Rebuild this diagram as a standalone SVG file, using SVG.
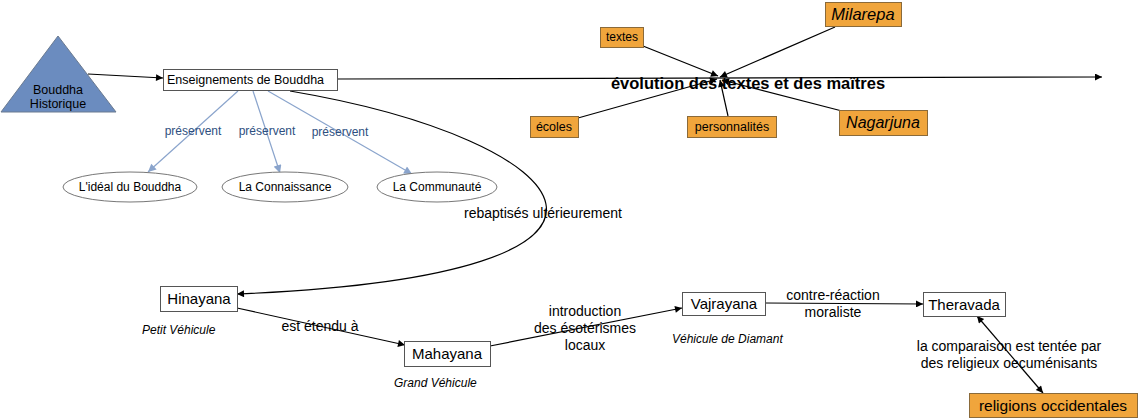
<svg xmlns="http://www.w3.org/2000/svg" width="1139" height="419" viewBox="0 0 1139 419">
<defs>
<style>
text{font-family:"Liberation Sans",Arial,sans-serif;fill:#000}
.box{fill:#fff;stroke:#555;stroke-width:1}
.org{fill:#f0a53c;stroke:#8a6a3a;stroke-width:1}
.ell{fill:#fff;stroke:#777;stroke-width:1}
.ln{fill:none;stroke:#000;stroke-width:1.2}
.bl{fill:none;stroke:#8aa4cc;stroke-width:1.2}
.lbl{font-size:14px;text-anchor:middle}
.blt{font-size:12px;fill:#2e4f80;text-anchor:middle}
.it{font-size:12px;font-style:italic}
</style>
<marker id="ah" viewBox="0 0 10 10" refX="10" refY="5" markerWidth="9" markerHeight="7" orient="auto" markerUnits="userSpaceOnUse"><path d="M0,0 L10,5 L0,10 z" fill="#000"/></marker>
<marker id="ahs" viewBox="0 0 10 10" refX="0" refY="5" markerWidth="9" markerHeight="7" orient="auto" markerUnits="userSpaceOnUse"><path d="M10,0 L0,5 L10,10 z" fill="#000"/></marker>
<marker id="ab" viewBox="0 0 10 10" refX="10" refY="5" markerWidth="10" markerHeight="8" orient="auto" markerUnits="userSpaceOnUse"><path d="M0,0 L10,5 L0,10 z" fill="#8aa4cc"/></marker>
</defs>

<g id="connectors">
<line class="ln" x1="88" y1="74" x2="163" y2="78" marker-end="url(#ah)"/>
<line class="ln" x1="337" y1="79" x2="1102" y2="77" stroke="#333" marker-end="url(#ah)"/>
<line class="bl" x1="238" y1="91" x2="148" y2="172" marker-end="url(#ab)"/>
<line class="bl" x1="253" y1="91" x2="280" y2="173" marker-end="url(#ab)"/>
<line class="bl" x1="268" y1="91" x2="412" y2="174" marker-end="url(#ab)"/>
<path class="ln" d="M290,91 C580,140 700,275 237,294" marker-end="url(#ah)"/>
<line class="ln" x1="643" y1="46" x2="718" y2="76" marker-end="url(#ah)"/>
<line class="ln" x1="835" y1="27" x2="720" y2="77" marker-end="url(#ah)"/>
<line class="ln" x1="578" y1="118" x2="717" y2="79" marker-end="url(#ah)"/>
<line class="ln" x1="728" y1="116" x2="720" y2="80" marker-end="url(#ah)"/>
<line class="ln" x1="842" y1="111" x2="722" y2="80" marker-end="url(#ah)"/>
<line class="ln" x1="237" y1="308" x2="405" y2="345" marker-end="url(#ah)"/>
<line class="ln" x1="490" y1="346" x2="682" y2="308" marker-end="url(#ah)"/>
<line class="ln" x1="765" y1="303" x2="923" y2="304" marker-end="url(#ah)"/>
<line class="ln" x1="977" y1="316" x2="1043" y2="393" marker-start="url(#ahs)" marker-end="url(#ah)"/>
<text class="blt" x="193" y="135">préservent</text>
<text class="blt" x="267" y="135">préservent</text>
<text class="blt" x="340" y="136">préservent</text>
<text class="lbl" x="543" y="218">rebaptisés ultérieurement</text>
<text x="748" y="89" font-size="16.5" font-weight="bold" text-anchor="middle">évolution des textes et des maîtres</text>
<text class="lbl" x="320" y="331">est étendu à</text>
<text class="lbl" x="585" y="316">introduction</text>
<text class="lbl" x="585" y="333">des ésotérismes</text>
<text class="lbl" x="585" y="350">locaux</text>
<text class="lbl" x="833" y="300">contre-réaction</text>
<text class="lbl" x="833" y="317">moraliste</text>
<text class="lbl" x="1009" y="351">la comparaison est tentée par</text>
<text class="lbl" x="1009" y="368">des religieux oecuménisants</text>
</g>

<g id="bouddha">
<polygon points="58,36 116,112 1,112" fill="#6b8cbf" stroke="#6a7a90" stroke-width="1"/>
<text x="58" y="94" font-size="12.5" text-anchor="middle" fill="#111d33">Bouddha</text>
<text x="58" y="108" font-size="12.5" text-anchor="middle" fill="#111d33">Historique</text>
</g>
<g id="enseignements">
<rect class="box" x="163.5" y="69.5" width="174" height="21"/>
<text x="167" y="84" font-size="12.5">Enseignements de Bouddha</text>
</g>
<g id="ideal">
<ellipse class="ell" cx="130" cy="187" rx="67" ry="15"/>
<text x="130" y="191" font-size="12" text-anchor="middle">L'idéal du Bouddha</text>
</g>
<g id="connaissance">
<ellipse class="ell" cx="285" cy="187" rx="63" ry="15"/>
<text x="285" y="191" font-size="12" text-anchor="middle">La Connaissance</text>
</g>
<g id="communaute">
<ellipse class="ell" cx="437" cy="187" rx="60" ry="15"/>
<text x="437" y="191" font-size="12" text-anchor="middle">La Communauté</text>
</g>
<g id="textes">
<rect class="org" x="600.5" y="27.5" width="43" height="20"/>
<text x="622" y="41" font-size="12" text-anchor="middle">textes</text>
</g>
<g id="milarepa">
<rect class="org" x="825.5" y="2.5" width="76" height="24"/>
<text x="863" y="20" font-size="16.5" font-style="italic" text-anchor="middle">Milarepa</text>
</g>
<g id="ecoles">
<rect class="org" x="530.5" y="116.5" width="48" height="21"/>
<text x="554" y="131" font-size="12.5" text-anchor="middle">écoles</text>
</g>
<g id="personnalites">
<rect class="org" x="687.5" y="116.5" width="89" height="21"/>
<text x="732" y="131" font-size="12.5" text-anchor="middle">personnalités</text>
</g>
<g id="nagarjuna">
<rect class="org" x="839.5" y="110.5" width="88" height="25"/>
<text x="883" y="128" font-size="16" font-style="italic" text-anchor="middle">Nagarjuna</text>
</g>
<g id="hinayana">
<rect class="box" x="160.5" y="286.5" width="77" height="25"/>
<text x="199" y="304" font-size="15" text-anchor="middle">Hinayana</text>
<text class="it" x="142" y="334">Petit Véhicule</text>
</g>
<g id="mahayana">
<rect class="box" x="404.5" y="341.5" width="86" height="25"/>
<text x="447" y="359" font-size="15" text-anchor="middle">Mahayana</text>
<text class="it" x="394" y="387">Grand Véhicule</text>
</g>
<g id="vajrayana">
<rect class="box" x="682.5" y="292.5" width="83" height="23"/>
<text x="724" y="309" font-size="15" text-anchor="middle">Vajrayana</text>
<text class="it" x="672" y="343">Véhicule de Diamant</text>
</g>
<g id="theravada">
<rect class="box" x="923.5" y="292.5" width="82" height="24"/>
<text x="964" y="310" font-size="15" text-anchor="middle">Theravada</text>
</g>
<g id="religions">
<rect class="org" x="969.5" y="393.5" width="168" height="24"/>
<text x="1053" y="411" font-size="15.5" text-anchor="middle">religions occidentales</text>
</g>
</svg>
